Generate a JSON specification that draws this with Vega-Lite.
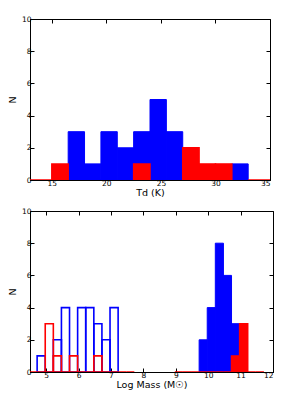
{
  "$schema": "https://vega.github.io/schema/vega-lite/v6.json",
  "padding": {"left": 6, "top": 14, "right": 0, "bottom": 0},
  "spacing": 8,
  "config": {
    "view": {"stroke": "black", "strokeWidth": 1},
    "font": "DejaVu Sans",
    "axis": {
      "grid": false,
      "domainColor": "black",
      "tickColor": "black",
      "labelColor": "black",
      "titleColor": "black",
      "labelFont": "DejaVu Sans",
      "titleFont": "DejaVu Sans",
      "labelFontSize": 7.5,
      "titleFontSize": 9.5,
      "titleFontWeight": "normal",
      "tickSize": -4,
      "labelPadding": 3
    }
  },
  "datasets": {
    "temp": [
      {"series": "blue", "lo": 16.5, "hi": 18, "n": 3},
      {"series": "blue", "lo": 18, "hi": 19.5, "n": 1},
      {"series": "blue", "lo": 19.5, "hi": 21, "n": 3},
      {"series": "blue", "lo": 21, "hi": 22.5, "n": 2},
      {"series": "blue", "lo": 22.5, "hi": 24, "n": 3},
      {"series": "blue", "lo": 24, "hi": 25.5, "n": 5},
      {"series": "blue", "lo": 25.5, "hi": 27, "n": 3},
      {"series": "blue", "lo": 31.5, "hi": 33, "n": 1},
      {"series": "red", "lo": 13, "hi": 15, "n": 0},
      {"series": "red", "lo": 15, "hi": 16.5, "n": 1},
      {"series": "red", "lo": 22.5, "hi": 24, "n": 1},
      {"series": "red", "lo": 27, "hi": 28.5, "n": 2},
      {"series": "red", "lo": 28.5, "hi": 30, "n": 1},
      {"series": "red", "lo": 30, "hi": 31.5, "n": 1},
      {"series": "red", "lo": 33, "hi": 35, "n": 0}
    ],
    "mass": [
      {"series": "blue", "kind": "step", "lo": 4.72, "hi": 4.97, "n": 1},
      {"series": "blue", "kind": "step", "lo": 4.97, "hi": 5.22, "n": 0},
      {"series": "blue", "kind": "step", "lo": 5.22, "hi": 5.47, "n": 2},
      {"series": "blue", "kind": "step", "lo": 5.47, "hi": 5.72, "n": 4},
      {"series": "blue", "kind": "step", "lo": 5.72, "hi": 5.97, "n": 0},
      {"series": "blue", "kind": "step", "lo": 5.97, "hi": 6.22, "n": 4},
      {"series": "blue", "kind": "step", "lo": 6.22, "hi": 6.47, "n": 4},
      {"series": "blue", "kind": "step", "lo": 6.47, "hi": 6.72, "n": 3},
      {"series": "blue", "kind": "step", "lo": 6.72, "hi": 6.97, "n": 2},
      {"series": "blue", "kind": "step", "lo": 6.97, "hi": 7.22, "n": 4},
      {"series": "red", "kind": "step", "lo": 4.47, "hi": 4.72, "n": 0},
      {"series": "red", "kind": "step", "lo": 4.72, "hi": 4.97, "n": 0},
      {"series": "red", "kind": "step", "lo": 4.97, "hi": 5.22, "n": 3},
      {"series": "red", "kind": "step", "lo": 5.22, "hi": 5.47, "n": 1},
      {"series": "red", "kind": "step", "lo": 5.47, "hi": 5.72, "n": 0},
      {"series": "red", "kind": "step", "lo": 5.72, "hi": 5.97, "n": 1},
      {"series": "red", "kind": "step", "lo": 5.97, "hi": 6.22, "n": 0},
      {"series": "red", "kind": "step", "lo": 6.22, "hi": 6.47, "n": 0},
      {"series": "red", "kind": "step", "lo": 6.47, "hi": 6.72, "n": 1},
      {"series": "red", "kind": "step", "lo": 6.72, "hi": 6.97, "n": 0},
      {"series": "red", "kind": "step", "lo": 6.97, "hi": 7.22, "n": 0},
      {"series": "red", "kind": "step", "lo": 7.22, "hi": 7.47, "n": 0},
      {"series": "red", "kind": "step", "lo": 7.47, "hi": 7.72, "n": 0},
      {"series": "blue", "kind": "filled", "lo": 9.72, "hi": 9.97, "n": 2},
      {"series": "blue", "kind": "filled", "lo": 9.97, "hi": 10.22, "n": 4},
      {"series": "blue", "kind": "filled", "lo": 10.22, "hi": 10.47, "n": 8},
      {"series": "blue", "kind": "filled", "lo": 10.47, "hi": 10.72, "n": 6},
      {"series": "blue", "kind": "filled", "lo": 10.72, "hi": 10.97, "n": 3},
      {"series": "red", "kind": "filled", "lo": 8.97, "hi": 9.22, "n": 0},
      {"series": "red", "kind": "filled", "lo": 9.22, "hi": 9.47, "n": 0},
      {"series": "red", "kind": "filled", "lo": 9.47, "hi": 9.72, "n": 0},
      {"series": "red", "kind": "filled", "lo": 9.72, "hi": 9.97, "n": 0},
      {"series": "red", "kind": "filled", "lo": 9.97, "hi": 10.22, "n": 0},
      {"series": "red", "kind": "filled", "lo": 10.22, "hi": 10.47, "n": 0},
      {"series": "red", "kind": "filled", "lo": 10.47, "hi": 10.72, "n": 0},
      {"series": "red", "kind": "filled", "lo": 10.72, "hi": 10.97, "n": 1},
      {"series": "red", "kind": "filled", "lo": 10.97, "hi": 11.22, "n": 3},
      {"series": "red", "kind": "filled", "lo": 11.22, "hi": 11.47, "n": 0},
      {"series": "red", "kind": "filled", "lo": 11.47, "hi": 11.72, "n": 0}
    ]
  },
  "vconcat": [
    {
      "width": 240,
      "height": 161,
      "data": {"name": "temp"},
      "resolve": {"scale": {"x": "independent", "y": "independent"}},
      "layer": [
        {
          "transform": [{"filter": "datum.series === 'blue'"}],
          "mark": {"type": "rect", "fill": "#0000ff", "stroke": "#0000ff", "strokeWidth": 1, "clip": true},
          "encoding": {
            "x": {"field": "lo", "type": "quantitative", "scale": {"domain": [13, 35], "nice": false, "zero": false}, "axis": {"values": [15, 20, 25, 30, 35], "title": "Td (K)", "titlePadding": 1}},
            "x2": {"field": "hi"},
            "y": {"field": "n", "type": "quantitative", "scale": {"domain": [0, 10], "nice": false}, "axis": {"values": [0, 2, 4, 6, 8, 10], "title": "N", "titlePadding": 4}},
            "y2": {"datum": 0}
          }
        },
        {
          "transform": [{"filter": "datum.series === 'red'"}],
          "mark": {"type": "rect", "fill": "#ff0000", "stroke": "#ff0000", "strokeWidth": 1.5, "clip": true},
          "encoding": {
            "x": {"field": "lo", "type": "quantitative", "scale": {"domain": [13, 35], "nice": false, "zero": false}, "axis": {"orient": "top", "values": [15, 20, 25, 30, 35], "labels": false, "title": null, "domain": false}},
            "x2": {"field": "hi"},
            "y": {"field": "n", "type": "quantitative", "scale": {"domain": [0, 10], "nice": false}, "axis": {"orient": "right", "values": [0, 2, 4, 6, 8, 10], "labels": false, "title": null, "domain": false}},
            "y2": {"datum": 0}
          }
        }
      ]
    },
    {
      "width": 243,
      "height": 161,
      "data": {"name": "mass"},
      "resolve": {"scale": {"x": "independent", "y": "independent"}},
      "layer": [
        {
          "transform": [{"filter": "datum.series === 'blue' && datum.kind === 'step'"}],
          "mark": {"type": "rect", "fill": null, "stroke": "#0000ff", "strokeWidth": 1.6, "clip": true},
          "encoding": {
            "x": {"field": "lo", "type": "quantitative", "scale": {"domain": [4.5, 12], "nice": false, "zero": false}, "axis": {"values": [5, 6, 7, 8, 9, 10, 11, 12], "title": "Log Mass (M☉)", "titlePadding": 1}},
            "x2": {"field": "hi"},
            "y": {"field": "n", "type": "quantitative", "scale": {"domain": [0, 10], "nice": false}, "axis": {"values": [0, 2, 4, 6, 8, 10], "title": "N", "titlePadding": 4}},
            "y2": {"datum": 0}
          }
        },
        {
          "transform": [{"filter": "datum.series === 'red' && datum.kind === 'step'"}],
          "mark": {"type": "rect", "fill": null, "stroke": "#ff0000", "strokeWidth": 1.6, "clip": true},
          "encoding": {
            "x": {"field": "lo", "type": "quantitative", "scale": {"domain": [4.5, 12], "nice": false, "zero": false}, "axis": {"orient": "top", "values": [5, 6, 7, 8, 9, 10, 11, 12], "labels": false, "title": null, "domain": false}},
            "x2": {"field": "hi"},
            "y": {"field": "n", "type": "quantitative", "scale": {"domain": [0, 10], "nice": false}, "axis": {"orient": "right", "values": [0, 2, 4, 6, 8, 10], "labels": false, "title": null, "domain": false}},
            "y2": {"datum": 0}
          }
        },
        {
          "transform": [{"filter": "datum.series === 'blue' && datum.kind === 'filled'"}],
          "mark": {"type": "rect", "fill": "#0000ff", "stroke": "#0000ff", "strokeWidth": 1, "clip": true},
          "encoding": {
            "x": {"field": "lo", "type": "quantitative", "scale": {"domain": [4.5, 12], "nice": false, "zero": false}, "axis": null},
            "x2": {"field": "hi"},
            "y": {"field": "n", "type": "quantitative", "scale": {"domain": [0, 10], "nice": false}, "axis": null},
            "y2": {"datum": 0}
          }
        },
        {
          "transform": [{"filter": "datum.series === 'red' && datum.kind === 'filled'"}],
          "mark": {"type": "rect", "fill": "#ff0000", "stroke": "#ff0000", "strokeWidth": 1.5, "clip": true},
          "encoding": {
            "x": {"field": "lo", "type": "quantitative", "scale": {"domain": [4.5, 12], "nice": false, "zero": false}, "axis": null},
            "x2": {"field": "hi"},
            "y": {"field": "n", "type": "quantitative", "scale": {"domain": [0, 10], "nice": false}, "axis": null},
            "y2": {"datum": 0}
          }
        }
      ]
    }
  ]
}
